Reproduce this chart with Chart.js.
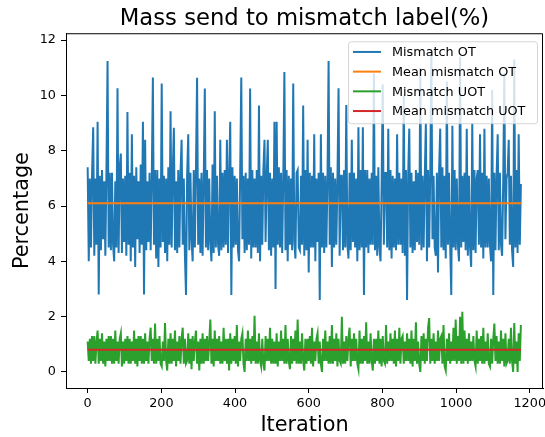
<!DOCTYPE html>
<html>
<head>
<meta charset="utf-8">
<script src="https://cdn.jsdelivr.net/npm/chart.js@4.4.1/dist/chart.umd.min.js"></script>
<style>
  html, body { margin: 0; padding: 0; background: #fff; }
  #wrap { width: 545px; height: 437px; }
</style>
</head>
<body>
<div id="wrap"><canvas id="mismatchChart" width="545" height="437"></canvas></div>
<script>
// one sample every 3 iterations
const step = 3;

const mismatchOT = [
  7.4, 4.0, 7.0, 4.5, 7.2, 8.85, 4.2, 7.0, 4.6, 9.05,
  2.8, 7.1, 4.4, 7.3, 4.8, 6.9, 4.2, 7.3, 11.25, 4.5,
  7.2, 4.4, 7.2, 4.6, 4.0, 6.9, 4.5, 10.26, 4.3, 7.4,
  7.9, 4.3, 7.0, 4.7, 7.1, 4.2, 9.4, 4.6, 7.2, 4.0,
  8.6, 4.5, 7.1, 3.8, 7.4, 4.8, 6.9, 4.3, 7.5, 4.6,
  9.05, 2.8, 8.4, 4.4, 6.9, 4.7, 7.2, 4.4, 7.0, 10.65,
  4.6, 7.3, 4.1, 7.3, 3.8, 7.0, 4.5, 10.43, 4.7, 7.1,
  4.3, 7.0, 4.0, 7.4, 4.6, 9.43, 4.5, 7.2, 8.83, 4.4,
  6.9, 4.3, 7.3, 4.5, 7.2, 8.4, 4.6, 7.0, 4.2, 2.78,
  7.1, 8.6, 4.4, 7.2, 4.8, 4.0, 7.3, 4.5, 7.4, 10.64,
  4.6, 7.0, 4.3, 7.2, 4.2, 6.9, 10.25, 4.5, 7.3, 4.4,
  7.0, 4.7, 4.0, 7.5, 4.3, 9.43, 4.5, 7.1, 4.6, 4.2,
  8.4, 4.4, 7.2, 4.5, 7.3, 4.6, 8.4, 4.3, 7.1, 9.05,
  2.78, 7.4, 4.5, 7.1, 4.6, 7.0, 4.4, 4.0, 7.2, 10.65,
  4.8, 7.1, 4.3, 7.2, 4.4, 7.0, 4.6, 10.25, 4.1, 7.3,
  4.5, 7.0, 4.5, 7.3, 4.3, 9.64, 4.0, 7.1, 4.6, 7.3,
  8.4, 4.7, 7.1, 8.4, 4.4, 7.2, 4.2, 7.0, 4.5, 9.05,
  3.0, 9.05, 4.6, 7.4, 4.5, 7.2, 4.3, 7.0, 10.85, 4.4,
  7.3, 4.0, 7.1, 4.6, 7.0, 4.4, 10.43, 4.7, 4.1, 7.2,
  7.3, 4.5, 4.4, 7.1, 4.6, 9.64, 4.2, 7.3, 4.4, 8.4,
  3.6, 7.2, 4.5, 7.1, 4.5, 8.6, 4.0, 7.0, 4.7, 7.2,
  2.6, 8.6, 4.5, 7.2, 4.3, 7.1, 4.5, 7.0, 11.25, 4.6,
  7.4, 3.8, 7.2, 4.5, 7.0, 4.6, 6.9, 10.26, 4.2, 7.1,
  7.1, 4.4, 7.3, 4.5, 9.65, 4.6, 4.1, 7.2, 4.4, 8.4,
  4.7, 7.2, 4.5, 7.0, 4.0, 8.85, 4.4, 7.3, 4.5, 8.85,
  2.78, 7.3, 4.5, 7.3, 4.3, 7.0, 4.6, 7.2, 4.6, 10.8,
  4.4, 7.1, 4.2, 7.4, 4.5, 4.0, 6.9, 10.4, 4.6, 7.2,
  7.2, 4.5, 8.8, 4.4, 7.3, 4.1, 7.1, 4.5, 7.0, 4.4,
  8.6, 4.6, 7.2, 4.6, 7.0, 4.3, 10.0, 4.2, 7.3, 2.6,
  7.1, 8.8, 4.5, 7.2, 4.3, 6.9, 4.4, 7.3, 4.7, 7.2,
  4.6, 11.0, 4.4, 7.1, 4.5, 7.0, 9.0, 4.0, 7.3, 4.5,
  7.2, 11.66, 4.8, 7.1, 4.5, 4.2, 7.2, 3.6, 7.3, 8.8,
  4.5, 7.4, 4.4, 7.1, 4.1, 10.5, 4.6, 7.2, 4.6, 2.78,
  8.9, 4.5, 7.3, 4.4, 7.0, 4.6, 4.0, 11.4, 4.5, 7.1,
  4.7, 7.2, 4.4, 8.8, 4.2, 7.1, 4.5, 3.8, 9.0, 4.4,
  7.3, 4.3, 7.0, 7.3, 4.6, 8.6, 4.5, 7.2, 4.1, 8.8,
  4.5, 7.1, 4.5, 7.0, 4.6, 4.0, 10.2, 2.78, 7.2, 4.4,
  7.1, 8.6, 4.4, 7.2, 4.6, 4.2, 6.9, 10.8, 4.8, 7.0,
  7.2, 8.4, 4.6, 7.1, 4.4, 3.8, 11.3, 4.5, 7.3, 4.3,
  8.6, 4.6, 6.8
];

const mismatchUOT = [
  1.1, 0.4, 1.2, 0.3, 1.3, 0.4, 1.3, 0.3, 1.1, 1.5,
  0.3, 1.2, 0.4, 1.4, 0.3, 1.1, 0.2, 1.2, 0.4, 1.3,
  0.4, 1.3, 0.3, 1.2, 0.3, 1.5, 0.4, 1.1, 0.3, 1.2,
  1.4, 0.2, 1.1, 0.3, 1.2, 0.4, 1.3, 0.3, 1.2, 0.3,
  1.1, 0.4, 1.5, 0.3, 1.2, 0.2, 1.3, 0.4, 1.3, 0.3,
  1.2, 0.3, 1.4, 0.4, 1.1, 0.3, 1.2, 1.6, 0.4, 1.2,
  0.3, 1.75, 0.3, 1.2, 0.4, 1.3, 0.3, 0.2, 1.1, 0.4,
  1.77, 0.4, 0.05, 1.2, 0.3, 1.4, 0.3, 1.2, 0.4, 1.5,
  0.2, 1.1, 0.4, 1.3, 0.3, 1.2, 1.6, 0.3, 1.2, 0.3,
  0.4, 1.4, 0.3, 1.2, 0.1, 1.3, 0.4, 1.1, 1.5, 0.3,
  1.1, 0.05, 1.2, 0.3, 1.4, 0.3, 1.2, 0.4, 1.3, 0.4,
  1.1, 1.9, 0.3, 1.2, 0.2, 1.5, 0.4, 1.2, 0.4, 1.3,
  0.3, 1.1, 0.3, 1.6, 0.4, 1.2, 0.3, 1.2, 0.05, 1.4,
  0.3, 1.2, 0.4, 1.3, 0.3, 1.7, 0.2, 1.1, 0.4, 1.2,
  1.4, 0.3, 0.0, 1.2, 0.4, 1.5, 0.4, 1.2, 0.3, 1.3,
  0.4, 2.03, 0.3, 1.1, 0.3, 1.4, 0.4, 0.2, 1.2, 0.3,
  0.05, 1.3, 0.4, 1.2, 0.4, 1.6, 0.3, 1.2, 0.3, 1.1,
  0.3, 1.4, 0.2, 1.1, 0.4, 1.5, 0.4, 1.2, 0.3, 1.7,
  0.3, 1.2, 0.4, 0.1, 1.3, 0.3, 1.2, 0.4, 1.5, 0.3,
  1.9, 0.3, 1.1, 0.3, 1.4, 0.4, 0.05, 1.2, 0.3, 1.2,
  0.4, 1.3, 0.3, 1.6, 0.2, 1.1, 0.4, 1.2, 1.4, 0.3,
  1.1, 0.3, 0.0, 1.2, 0.4, 1.5, 0.4, 1.1, 0.3, 1.3,
  0.3, 1.7, 0.3, 1.2, 0.4, 1.4, 0.2, 1.2, 0.4, 0.3,
  2.0, 0.3, 1.1, 0.3, 1.3, 0.4, 1.2, 1.6, 0.2, 1.2,
  0.4, 1.4, 0.4, 1.2, 0.3, 0.1, 1.5, 0.3, 1.2, 0.3,
  1.3, 0.4, 1.8, 0.3, 1.1, 0.3, 1.4, 0.4, 0.05, 1.2,
  0.3, 1.2, 0.4, 1.5, 0.3, 1.2, 0.2, 1.3, 0.4, 0.3,
  1.7, 0.3, 1.1, 0.4, 1.4, 0.4, 1.2, 0.3, 1.5, 0.2,
  1.2, 0.4, 1.6, 0.3, 1.2, 1.3, 0.3, 1.1, 0.4, 1.4,
  0.4, 1.2, 0.3, 1.5, 0.2, 1.2, 0.4, 1.8, 0.3, 1.1,
  0.3, 0.0, 1.3, 0.4, 1.4, 0.3, 1.2, 0.4, 1.6, 1.95,
  0.3, 1.2, 0.4, 1.4, 0.3, 1.1, 0.4, 1.5, 0.4, 1.2,
  1.3, 0.3, 1.7, 0.2, 0.05, 1.2, 0.4, 1.4, 0.3, 1.1,
  0.4, 1.6, 0.4, 1.9, 0.3, 1.3, 0.4, 2.0, 0.3, 2.18,
  0.3, 1.5, 0.4, 1.2, 0.3, 1.4, 0.4, 1.1, 0.4, 1.3,
  0.4, 0.2, 1.5, 0.3, 1.2, 0.4, 1.3, 0.3, 1.6, 0.3,
  1.1, 0.4, 1.4, 0.3, 0.2, 1.2, 0.3, 1.2, 1.75, 0.4,
  1.3, 0.3, 1.1, 0.3, 1.5, 0.4, 1.2, 0.2, 1.4, 0.3,
  0.4, 1.2, 0.3, 1.6, 0.4, 0.0, 1.77, 0.3, 1.1, 0.0,
  1.4, 0.4, 1.7
];

const meanOT = 6.1;
const meanUOT = 0.8;

const seriesLabels = ['Mismatch OT', 'Mean mismatch OT', 'Mismatch UOT', 'Mean mismatch UOT'];
const seriesColors = ['#1f77b4', '#ff7f0e', '#2ca02c', '#d62728'];

const xTicks = [0, 200, 400, 600, 800, 1000, 1200];
const yTicks = [0, 2, 4, 6, 8, 10, 12];

const lastIter = (mismatchOT.length - 1) * step;
const toPoints = arr => arr.map((v, i) => ({ x: i * step, y: v }));
const flatLine = v => [{ x: 0, y: v }, { x: lastIter, y: v }];

// top and right spines, matplotlib style
const boxFrame = {
  id: 'boxFrame',
  afterDatasetsDraw(chart) {
    const { ctx, chartArea: a } = chart;
    ctx.save();
    ctx.strokeStyle = '#000';
    ctx.lineWidth = 1;
    ctx.beginPath();
    ctx.moveTo(a.left, a.top + 0.5);
    ctx.lineTo(a.right - 0.5, a.top + 0.5);
    ctx.lineTo(a.right - 0.5, a.bottom);
    ctx.stroke();
    ctx.restore();
  }
};

// legend drawn inside the plot, upper right
const innerLegend = {
  id: 'innerLegend',
  afterDraw(chart) {
    const { ctx, chartArea: a } = chart;
    const boxW = 189, boxH = 82, rowH = 19.7;
    const x0 = a.right - 6 - boxW;
    const y0 = a.top + 8;
    ctx.save();
    ctx.fillStyle = 'rgba(255,255,255,0.8)';
    ctx.strokeStyle = 'rgba(204,204,204,0.8)';
    ctx.lineWidth = 1;
    ctx.beginPath();
    ctx.roundRect(x0 + 0.5, y0 + 0.5, boxW, boxH, 3);
    ctx.fill();
    ctx.stroke();
    ctx.font = '12.8px "DejaVu Sans"';
    ctx.textBaseline = 'middle';
    chart.data.datasets.forEach((ds, i) => {
      const cy = y0 + 10.7 + i * rowH;
      ctx.strokeStyle = ds.borderColor;
      ctx.lineWidth = 2;
      ctx.beginPath();
      ctx.moveTo(x0 + 5, cy);
      ctx.lineTo(x0 + 33, cy);
      ctx.stroke();
      ctx.fillStyle = '#000';
      ctx.fillText(ds.label, x0 + 44, cy + 1);
    });
    ctx.restore();
  }
};

Chart.defaults.font.family = '"DejaVu Sans"';
Chart.defaults.color = '#000';

const lineStyle = { borderWidth: 2, pointRadius: 0, tension: 0, fill: false };

const ctx = document.getElementById('mismatchChart').getContext('2d');
new Chart(ctx, {
  type: 'line',
  data: {
    datasets: [
      { label: seriesLabels[0], data: toPoints(mismatchOT), borderColor: seriesColors[0], order: 4, ...lineStyle },
      { label: seriesLabels[1], data: flatLine(meanOT), borderColor: seriesColors[1], order: 3, ...lineStyle },
      { label: seriesLabels[2], data: toPoints(mismatchUOT), borderColor: seriesColors[2], order: 2, ...lineStyle },
      { label: seriesLabels[3], data: flatLine(meanUOT), borderColor: seriesColors[3], order: 1, ...lineStyle }
    ]
  },
  options: {
    responsive: false,
    animation: false,
    devicePixelRatio: 1,
    parsing: false,
    layout: { padding: { left: 0, right: 2, top: 0, bottom: 0 } },
    scales: {
      x: {
        type: 'linear',
        min: -58.8,
        max: 1236,
        afterBuildTicks: s => { s.ticks = xTicks.map(v => ({ value: v })); },
        afterFit: s => { s.height = 49; s.paddingLeft = 0; s.paddingRight = 0; },
        grid: { drawOnChartArea: false, drawTicks: true, tickLength: 5, color: '#000' },
        border: { display: true, color: '#000', width: 1 },
        ticks: { font: { size: 12.8 }, color: '#000', padding: 3, maxRotation: 0, callback: v => String(v) },
        title: { display: true, text: 'Iteration', font: { size: 20.8 }, color: '#000', padding: { top: 0, bottom: -1 } }
      },
      y: {
        type: 'linear',
        min: -0.58,
        max: 12.25,
        afterBuildTicks: s => { s.ticks = yTicks.map(v => ({ value: v })); },
        afterFit: s => { s.width = 66; s.paddingTop = 0; s.paddingBottom = 0; },
        grid: { drawOnChartArea: false, drawTicks: true, tickLength: 5, color: '#000' },
        border: { display: true, color: '#000', width: 1 },
        ticks: { font: { size: 12.8 }, color: '#000', padding: 5, callback: v => String(v) },
        title: { display: true, text: 'Percentage', font: { size: 20.8 }, color: '#000', padding: { top: 10, bottom: 0 } }
      }
    },
    plugins: {
      legend: { display: false },
      tooltip: { enabled: false },
      title: {
        display: true,
        text: 'Mass send to mismatch label(%)',
        fullSize: false,
        color: '#000',
        font: { size: 22.7, weight: 'normal' },
        padding: { top: 5, bottom: 1 }
      }
    }
  },
  plugins: [boxFrame, innerLegend]
});
</script>
</body>
</html>
